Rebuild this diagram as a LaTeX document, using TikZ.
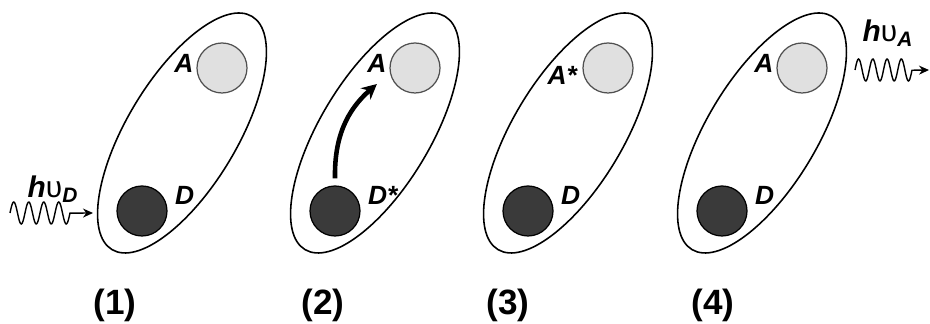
\documentclass[tikz,border=0pt]{standalone}
\usepackage{fontspec}
\setmainfont{Liberation Sans}
\usetikzlibrary{shapes.geometric,arrows.meta,calc}

\definecolor{donorfill}{HTML}{3A3A3A}
\definecolor{acceptorfill}{HTML}{E0E0E0}
\definecolor{acceptorrim}{HTML}{505050}

\begin{document}
\begin{tikzpicture}[
    >=Stealth,
    pair/.style={draw, ellipse, rotate=59, minimum width=5.44cm, minimum height=2.2cm, inner sep=0pt, line width=0.9pt},
    acceptor/.style={draw=acceptorrim, fill=acceptorfill, circle, minimum size=1cm, inner sep=0pt, line width=0.7pt},
    donor/.style={draw=black, fill=donorfill, circle, minimum size=1cm, inner sep=0pt, line width=0.7pt},
    site/.style={font=\fontsize{15}{18}\selectfont\bfseries\itshape, inner sep=1.5pt},
    panelno/.style={font=\fontsize{20}{24}\selectfont\bfseries},
    energy/.style={font=\fontsize{17}{20}\selectfont},
    photon/.style={-{Stealth[length=0.2cm, width=0.18cm]}, line width=0.8pt},
    transfer/.style={-{Stealth[length=0.3cm, width=0.3cm]}, line width=2.6pt},
]
\useasboundingbox (0,0) rectangle (18.6,6.48);

% (1) donor is excited
\node[pair] (e1) at (3.64,3.82) {};
\node[acceptor] (a1) at ($(e1)+(0.80,1.30)$) {};
\node[donor] (d1) at ($(e1)+(-0.80,-1.56)$) {};
\node[site, anchor=east] (alab1) at ([yshift=0.1cm]a1.west) {A};
\node[site, anchor=west] (dlab1) at ([shift={(0.09,0.32)}]d1.east) {D};
\node[energy] (hvD) at (1.06,2.70) {\textbf{\textit{h}}υ\textsubscript{\textbf{\textit{D}}}};
\coordinate (hvDin) at (0.20,2.22);
\coordinate (hvDout) at (1.86,2.22);
\draw[photon] (hvDin) -- plot[shift={(hvDin)}, domain=0:1.2, samples=80, smooth] (\x, {0.22*sin(\x*1200)}) -- (hvDout);
\node[panelno] (n1) at (2.30,0.38) {(1)};

% (2) energy transfer
\node[pair] (e2) at (7.50,3.82) {};
\node[acceptor] (a2) at ($(e2)+(0.80,1.30)$) {};
\node[donor] (d2) at ($(e2)+(-0.80,-1.56)$) {};
\node[site, anchor=east] (alab2) at ([yshift=0.1cm]a2.west) {A};
\node[site, anchor=west] (dlab2) at ([shift={(0.09,0.32)}]d2.east) {D*};
\draw[transfer] ([yshift=0.14cm]d2.north) to[bend left=25] ([yshift=-0.18cm]alab2.south);
\node[panelno] (n2) at (6.46,0.38) {(2)};

% (3) acceptor is excited
\node[pair] (e3) at (11.36,3.82) {};
\node[acceptor] (a3) at ($(e3)+(0.80,1.30)$) {};
\node[donor] (d3) at ($(e3)+(-0.80,-1.56)$) {};
\node[site, anchor=east] (alab3) at ([shift={(-0.05,-0.14)}]a3.west) {A*};
\node[site, anchor=west] (dlab3) at ([shift={(0.09,0.32)}]d3.east) {D};
\node[panelno] (n3) at (10.16,0.38) {(3)};

% (4) acceptor emits
\node[pair] (e4) at (15.24,3.82) {};
\node[acceptor] (a4) at ($(e4)+(0.80,1.30)$) {};
\node[donor] (d4) at ($(e4)+(-0.80,-1.56)$) {};
\node[site, anchor=east] (alab4) at ([yshift=0.1cm]a4.west) {A};
\node[site, anchor=west] (dlab4) at ([shift={(0.09,0.32)}]d4.east) {D};
\node[energy] (hvA) at (17.76,5.82) {\textbf{\textit{h}}υ\textsubscript{\textbf{\textit{A}}}};
\coordinate (hvAin) at (17.10,5.08);
\coordinate (hvAout) at (18.58,5.08);
\draw[photon] (hvAin) -- plot[shift={(hvAin)}, domain=0:1.14, samples=80, smooth] (\x, {0.22*sin(\x*1263)}) -- (hvAout);
\node[panelno] (n4) at (14.26,0.38) {(4)};

\end{tikzpicture}
\end{document}
